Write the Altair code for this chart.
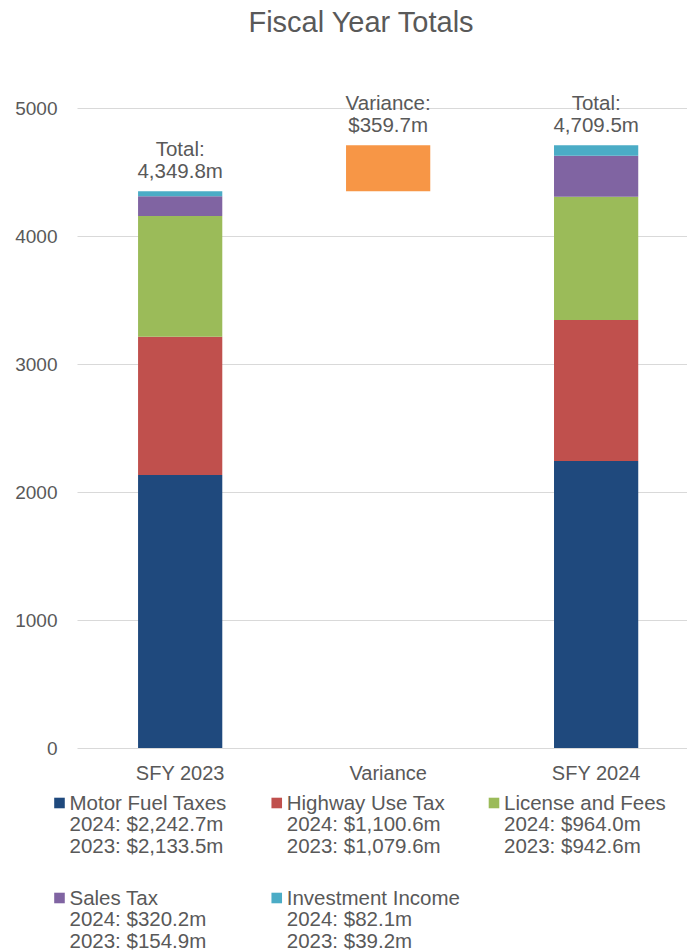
import altair as alt
import pandas as pd

# ---- data ----
categories = ["SFY 2023", "Variance", "SFY 2024"]
sources = ["Motor Fuel Taxes", "Highway Use Tax", "License and Fees", "Sales Tax", "Investment Income"]
values_2023 = [2133.5, 1079.6, 942.6, 154.9, 39.2]
values_2024 = [2242.7, 1100.6, 964.0, 320.2, 82.1]
colors = ["#1F497D", "#C0504D", "#9BBB59", "#8064A2", "#4BACC6"]
variance_color = "#F79646"
total_2023 = 4349.8
total_2024 = 4709.5
variance = 359.7
top_labels = ["Total:\n4,349.8m", "Variance:\n$359.7m", "Total:\n4,709.5m"]
legend_2024 = ["2024: $2,242.7m", "2024: $1,100.6m", "2024: $964.0m", "2024: $320.2m", "2024: $82.1m"]
legend_2023 = ["2023: $2,133.5m", "2023: $1,079.6m", "2023: $942.6m", "2023: $154.9m", "2023: $39.2m"]
legend_col = [0, 1, 2, 0, 1]
legend_row = [0, 0, 0, 1, 1]
y_ticks = [0, 1000, 2000, 3000, 4000, 5000]

TXT = "#595959"
FONT = "Liberation Sans"

# ---- tables ----
rows = []
for i, s in enumerate(sources):
    rows.append({"cat": "SFY 2023", "source": s, "value": values_2023[i], "ord": i})
    rows.append({"cat": "SFY 2024", "source": s, "value": values_2024[i], "ord": i})
bars_df = pd.DataFrame(rows)
var_df = pd.DataFrame({"cat": ["Variance"], "start": [total_2023], "end": [total_2023 + variance]})
lab_df = pd.DataFrame({"cat": categories, "top": [total_2023, total_2024, total_2024], "label": top_labels})
leg_df = pd.DataFrame({
    "source": sources,
    "col": legend_col,
    "row": legend_row,
    "text": [f"{s}\n{a}\n{b}" for s, a, b in zip(sources, legend_2024, legend_2023)],
})

W, H = 610, 640
x_scale = alt.Scale(domain=categories, paddingInner=0.595, paddingOuter=0.264, align=0.556)
y_scale = alt.Scale(domain=[0, 5000], nice=False, zero=True)
color_scale = alt.Scale(domain=sources, range=colors)

x_enc = alt.X("cat:N", scale=x_scale, sort=categories, title=None,
              axis=alt.Axis(labelAngle=0, ticks=False, domain=False, labelPadding=15,
                            labelFontSize=20, labelColor=TXT, labelFont=FONT))

bars = alt.Chart(bars_df).mark_bar().encode(
    x=x_enc,
    y=alt.Y("value:Q", stack="zero", scale=y_scale, title=None,
            axis=alt.Axis(values=y_ticks, ticks=False, domain=False, gridColor="#D9D9D9",
                          labelPadding=20, labelFontSize=19, labelColor=TXT, labelFont=FONT,
                          format="d")),
    color=alt.Color("source:N", scale=color_scale, legend=None),
    order=alt.Order("ord:Q", sort="ascending"),
)

var_bar = alt.Chart(var_df).mark_bar(color=variance_color).encode(
    x=alt.X("cat:N", scale=x_scale, sort=categories),
    y=alt.Y("start:Q", scale=y_scale),
    y2="end:Q",
)

labels = alt.Chart(lab_df).mark_text(
    baseline="bottom", dy=-31, fontSize=20.5, lineHeight=22, lineBreak="\n",
    color=TXT, font=FONT
).encode(
    x=alt.X("cat:N", scale=x_scale, sort=categories),
    y=alt.Y("top:Q", scale=y_scale),
    text="label:N",
)

main = alt.layer(bars, var_bar, labels)

# legend drawn with its own scales (rows/columns below the plot)
leg_x = alt.Scale(domain=[0.0806, 2.8884], nice=False, zero=False)
leg_y = alt.Scale(domain=[-7.3158, -0.5789], nice=False, zero=False, reverse=True)

leg_sq = alt.Chart(leg_df).mark_square(size=112, opacity=1).encode(
    x=alt.X("col:Q", scale=leg_x, axis=None),
    y=alt.Y("row:Q", scale=leg_y, axis=None),
    color=alt.Color("source:N", scale=color_scale, legend=None),
)
leg_txt = alt.Chart(leg_df).mark_text(
    align="left", baseline="top", dx=10, dy=-9, fontSize=20.5, lineHeight=21.5,
    lineBreak="\n", color=TXT, font=FONT
).encode(
    x=alt.X("col:Q", scale=leg_x, axis=None),
    y=alt.Y("row:Q", scale=leg_y, axis=None),
    text="text:N",
)
legend = alt.layer(leg_sq, leg_txt)

chart = alt.layer(main, legend).resolve_scale(
    x="independent", y="independent"
).properties(
    width=W, height=H,
    title=alt.TitleParams("Fiscal Year Totals", fontSize=29, font=FONT, fontWeight="normal",
                          color=TXT, anchor="middle", dx=-21, offset=56),
    autosize=alt.AutoSizeParams(type="none"),
    padding={"left": 69, "top": 100, "right": 0, "bottom": 205},
).configure_view(stroke=None)

chart.save("out.html", embed_options={"renderer": "svg", "actions": False})
